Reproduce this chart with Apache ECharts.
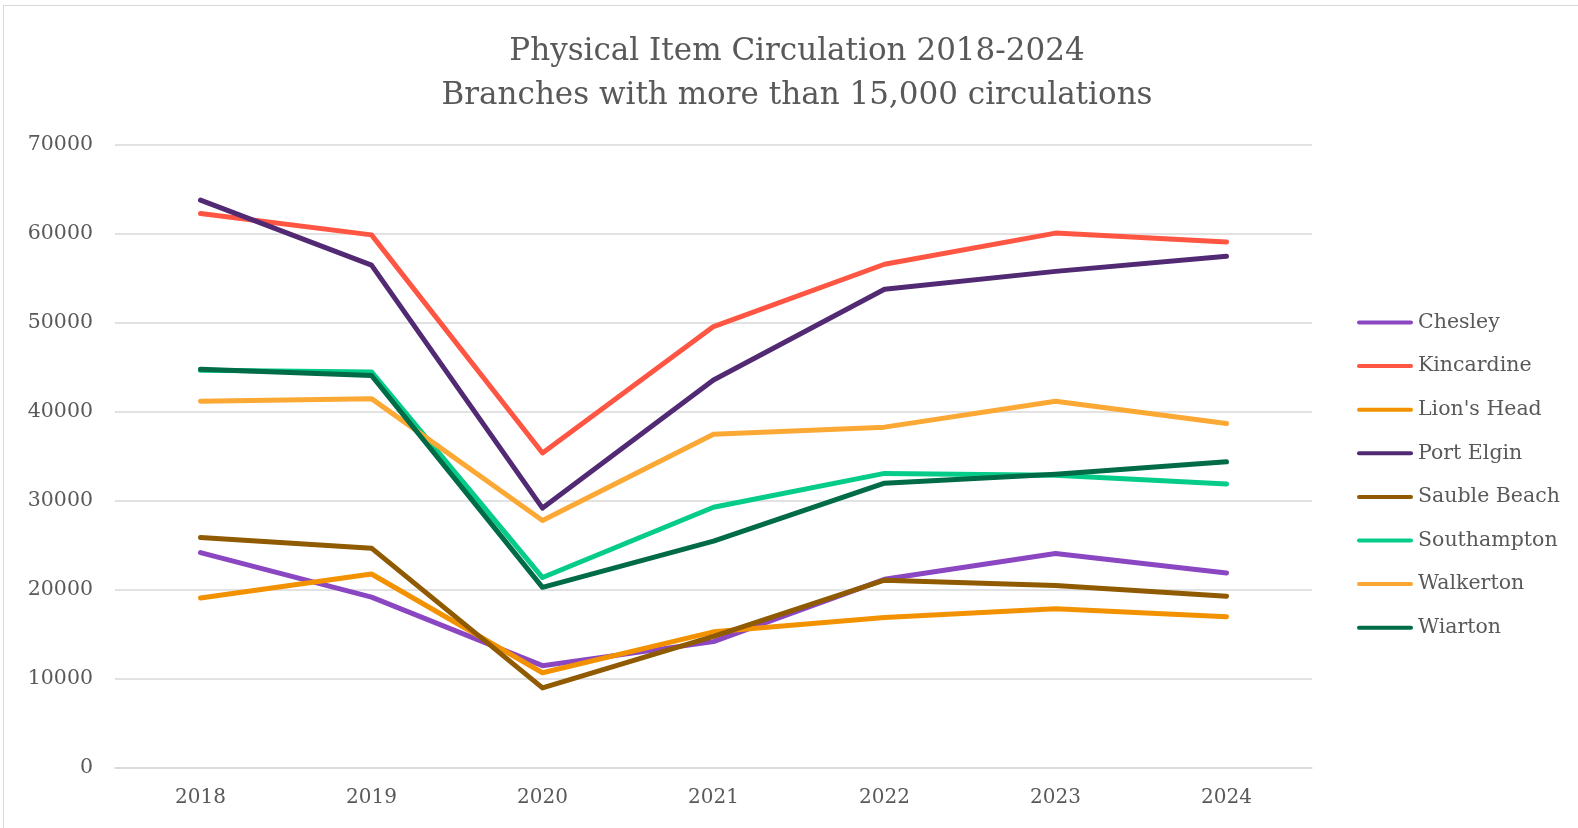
<!DOCTYPE html>
<html>
<head>
<meta charset="utf-8">
<script src="https://cdn.jsdelivr.net/npm/echarts@6/dist/echarts.min.js"></script>
<style>
html,body{margin:0;padding:0;background:#fff;overflow:hidden;width:1578px;height:828px;}
#frame{position:absolute;left:3px;top:5px;width:1575px;height:823px;border-left:1px solid #d9d9d9;border-top:1px solid #d9d9d9;box-sizing:border-box;}
#main{position:absolute;left:0;top:0;width:1578px;height:828px;}
</style>
</head>
<body>
<div id="frame"></div>
<div id="main"></div>
<script>
const years = ['2018','2019','2020','2021','2022','2023','2024'];
const chesley     = [24200, 19200, 11500, 14200, 21200, 24100, 21900];
const kincardine  = [62300, 59900, 35400, 49600, 56600, 60100, 59100];
const lionsHead   = [19100, 21800, 10700, 15300, 16900, 17900, 17000];
const portElgin   = [63800, 56500, 29200, 43600, 53800, 55800, 57500];
const saubleBeach = [25900, 24700,  9000, 14800, 21100, 20500, 19300];
const southampton = [44700, 44500, 21400, 29300, 33100, 32900, 31900];
const walkerton   = [41200, 41500, 27800, 37500, 38300, 41200, 38700];
const wiarton     = [44800, 44100, 20300, 25500, 32000, 33000, 34400];
const yTicks = [0, 10000, 20000, 30000, 40000, 50000, 60000, 70000];

const seriesDefs = [
  ['Chesley', chesley, '#8B47C2'],
  ['Kincardine', kincardine, '#FF5643'],
  ["Lion's Head", lionsHead, '#F39200'],
  ['Port Elgin', portElgin, '#512A73'],
  ['Sauble Beach', saubleBeach, '#8F5A00'],
  ['Southampton', southampton, '#05CC88'],
  ['Walkerton', walkerton, '#FBA835'],
  ['Wiarton', wiarton, '#006B47']
];
const font = '"DejaVu Serif", "Liberation Serif", serif';
const chart = echarts.init(document.getElementById('main'));
chart.setOption({
  animation: false,
  title: {
    text: 'Physical Item Circulation 2018-2024\nBranches with more than 15,000 circulations',
    left: 792, textAlign: 'center', top: 25,
    textStyle: {fontFamily: font, fontSize: 31, fontWeight: 'normal', color: '#595959', lineHeight: 44}
  },
  legend: {
    orient: 'vertical', left: 1352, top: 307,
    itemWidth: 56, itemHeight: 14, itemGap: 22.6,
    textStyle: {fontFamily: font, fontSize: 20.5, color: '#595959'},
    icon: 'path://M2,5 L54,5 A2,2 0 0 1 54,9 L2,9 A2,2 0 0 1 2,5 Z',
    data: seriesDefs.map(d => d[0])
  },
  grid: {left: 115, right: 266, top: 145, bottom: 60, containLabel: false},
  xAxis: {
    type: 'category', data: years, boundaryGap: true,
    axisLine: {lineStyle: {color: '#d9d9d9', width: 1.5}},
    axisTick: {show: false},
    axisLabel: {fontFamily: font, fontSize: 20, color: '#595959', margin: 20}
  },
  yAxis: {
    type: 'value', min: yTicks[0], max: yTicks[yTicks.length-1], interval: 10000,
    axisLine: {show: false}, axisTick: {show: false},
    axisLabel: {fontFamily: font, fontSize: 20.5, color: '#595959', margin: 22, formatter: v => String(v)},
    splitLine: {lineStyle: {color: '#d9d9d9', width: 1.5}}
  },
  series: seriesDefs.map(d => ({
    name: d[0], type: 'line', data: d[1], symbol: 'none', smooth: false,
    lineStyle: {color: d[2], width: 5, cap: 'round', join: 'round'},
    itemStyle: {color: d[2]}
  }))
});
</script>
</body>
</html>
